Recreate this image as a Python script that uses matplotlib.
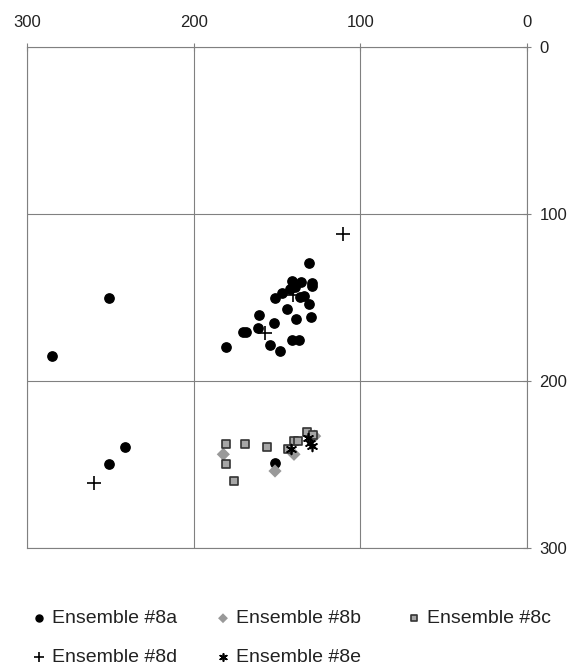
import matplotlib.pyplot as plt

plt.rcParams['font.family'] = ['Liberation Sans', 'DejaVu Sans']

# Ensemble #8a (black circles)
a_x = [130.6, 141.2, 135.8, 128.8, 128.8, 147.2, 142.2, 139.2, 151.2, 136.2, 133.8, 130.6,
       144.2, 160.6, 138.6, 129.8, 151.8, 170.2, 168.6, 161.6, 141.2, 136.8, 154.2, 148.2,
       180.6, 250.6, 285.1, 241.0, 250.6, 151.0]
a_y = [129.5, 140.0, 140.7, 141.1, 142.9, 147.5, 145.1, 143.5, 150.1, 149.9, 149.1, 154.1,
       157.1, 160.5, 163.1, 161.5, 165.5, 170.5, 170.5, 168.5, 175.4, 175.4, 178.4, 181.9,
       179.5, 150.1, 185.0, 239.7, 249.9, 249.3]

# Ensemble #8b (grey diamonds)
b_x = [182.2, 151.2, 139.8, 127.4]
b_y = [243.9, 253.9, 243.9, 233.0]

# Ensemble #8c (grey squares)
c_x = [180.6, 169.0, 155.8, 180.6, 175.8, 143.2, 139.8, 137.2, 131.8, 128.6]
c_y = [237.7, 237.7, 239.7, 249.7, 259.9, 240.9, 235.7, 235.7, 230.5, 232.3]

# Ensemble #8d (plus)
d_x = [110.4, 140.2, 157.2, 259.6]
d_y = [112.0, 148.5, 171.4, 260.9]

# Ensemble #8e (asterisk)
e_x = [130.2, 131.4, 129.2, 141.5]
e_y = [237.3, 234.3, 239.0, 241.0]

fig = plt.figure(figsize=(5.68, 6.70), dpi=100)
ax = fig.add_axes([27 / 568, 1 - 548 / 670, 500 / 568, 501 / 670])

ha = ax.scatter(a_x, a_y, s=45, marker='o', color='black', zorder=3, label='Ensemble #8a')
hb = ax.scatter(b_x, b_y, s=45, marker='D', color='#999999', edgecolors='none', zorder=4,
                label='Ensemble #8b')
hc = ax.scatter(c_x, c_y, s=40, marker='s', facecolor='#a6a6a6', edgecolors='#333333',
                linewidths=1.2, zorder=5, label='Ensemble #8c')
hd = ax.scatter(d_x, d_y, s=110, marker='+', color='black', linewidths=1.2, zorder=6,
                label='Ensemble #8d')
he = ax.scatter(e_x, e_y, s=50, marker=(6, 2, 0), color='black', linewidths=1.2, zorder=6,
                label='Ensemble #8e')

ax.set_xlim(300, 0)
ax.set_ylim(300, 0)
ax.set_xticks([300, 200, 100, 0])
ax.set_yticks([0, 100, 200, 300])
ax.xaxis.tick_top()
ax.yaxis.tick_right()
ax.tick_params(direction='inout', length=6, width=0.8, color='#808080',
               labelsize=12, labelcolor='#222222')
ax.tick_params(axis='x', pad=9)
ax.tick_params(axis='y', pad=6)
ax.grid(True, color='#808080', linewidth=0.8)
for sp in ax.spines.values():
    sp.set_color('#808080')
    sp.set_linewidth(0.8)

# legend laid out in three columns, like the original
columns = [([ha, hd], 17.6), ([hb, he], 201.6), ([hc], 392.6)]
for hs, x0 in columns:
    fig.legend(hs, [h.get_label() for h in hs], loc='upper left',
               bbox_to_anchor=(x0 / 568, 1 - 600 / 670), frameon=False, fontsize=14,
               handletextpad=0.05, labelspacing=1.1, borderpad=0,
               handlelength=1.2, markerscale=0.75, labelcolor='#222222')

fig.savefig('out.png', dpi=100)
